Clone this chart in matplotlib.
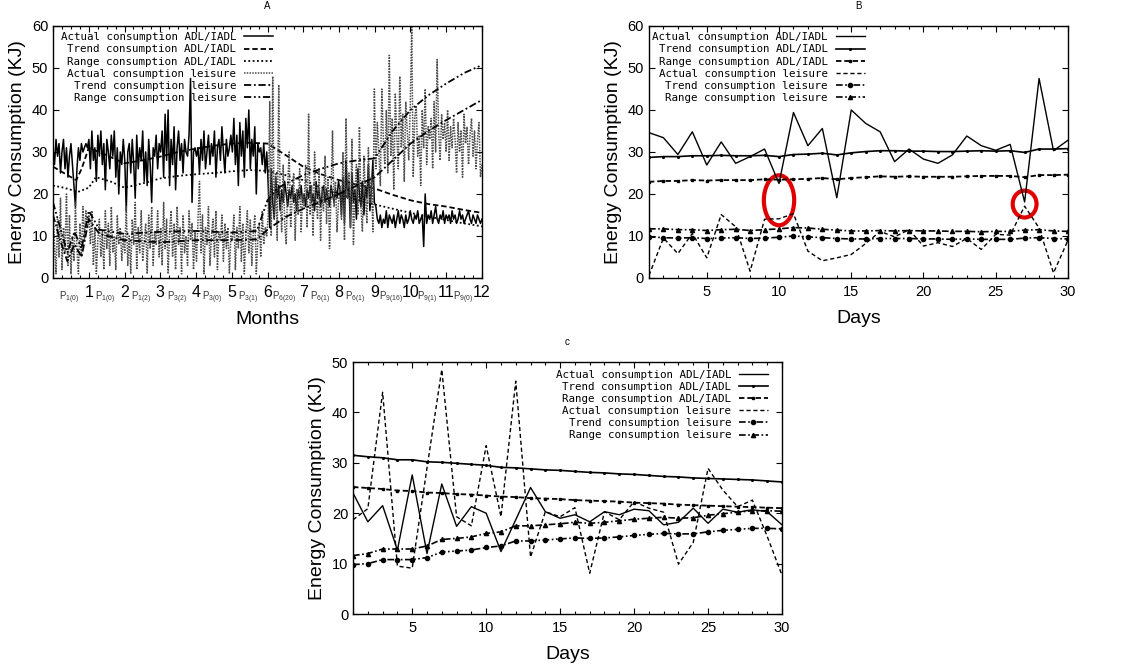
import numpy as np
import matplotlib
matplotlib.use('Agg')
import matplotlib.pyplot as plt
from matplotlib.patches import Ellipse
from matplotlib.ticker import MultipleLocator
import matplotlib.transforms as mtransforms

plt.rcParams['font.family'] = ['Liberation Sans', 'DejaVu Sans']

labels = ['Actual consumption ADL/IADL', 'Trend consumption ADL/IADL',
          'Range consumption ADL/IADL', 'Actual consumption leisure',
          'Trend consumption leisure', 'Range consumption leisure']

# ---- panel A : one year, 24 readings per month
a_adl_actual = [31, 27, 33, 29, 32, 25, 30, 33, 26, 31, 24, 29, 32, 27, 22, 17, 26, 31, 28, 32, 30, 31, 32, 31,
                33, 26, 35, 28, 31, 23, 34, 29, 35, 27, 32, 21, 33, 30, 26, 34, 29, 35, 24, 31, 20, 30, 27, 33,
                28, 16, 30, 32, 25, 33, 27, 19, 34, 26, 31, 28, 35, 23, 30, 22, 33, 27, 18, 31, 29, 34, 26, 32,
                30, 35, 24, 39, 28, 40, 22, 33, 27, 36, 21, 31, 35, 28, 32, 25, 33, 30, 29, 34, 47.5, 18, 30, 31,
                29, 31, 25, 33, 28, 35, 26, 30, 34, 27, 32, 29, 35, 24, 31, 33, 28, 36, 30, 25, 33, 29, 31, 34,
                30, 38, 27, 34, 22, 37, 29, 35, 24, 38, 31, 40, 26, 33, 29, 36, 20, 32, 30, 31, 27, 32, 25, 30,
                22, 12, 26, 18, 14, 24, 19, 22, 16, 21, 18, 23, 20, 17, 21, 19, 22, 18, 20, 16, 21, 19, 22, 18,
                20, 17, 21, 19, 22, 18, 20, 16, 23, 19, 21, 17, 20, 22, 18, 21, 19, 17, 22, 20, 18, 21, 19, 23,
                21, 15, 24, 13, 28, 19, 22, 12, 25, 18, 21, 14, 26, 20, 17, 23, 15, 22, 19, 27, 16, 21, 28, 18,
                17, 14, 13, 15, 12, 14, 13, 16, 12, 15, 14, 13, 15, 12, 14, 16, 13, 15, 14, 12, 15, 13, 14, 16,
                14, 13, 15, 14, 16, 13, 14, 15, 7.5, 20, 13, 15, 14, 16, 13, 15, 17, 14, 13, 15, 14, 16, 13, 15,
                14, 15, 13, 16, 14, 15, 13, 14, 16, 14, 15, 13, 14, 15, 16, 14, 13, 15, 14, 13, 15, 14, 13, 14]
a_leis_actual = [17, 8, 1, 14, 5, 19, 2, 12, 6, 20, 3, 15, 1, 10, 4, 18, 7, 1, 13, 5, 17, 9, 16, 12,
                 15, 8, 16, 3, 12, 1, 9, 14, 5, 11, 2, 16, 7, 13, 3, 17, 6, 10, 2, 15, 8, 12, 4, 10,
                 6, 17, 3, 10, 1, 14, 8, 18, 2, 12, 6, 16, 4, 9, 13, 1, 15, 7, 17, 3, 11, 8, 16, 5,
                 12, 3, 18, 7, 14, 1, 11, 16, 5, 13, 2, 17, 8, 12, 1, 15, 6, 10, 3, 16, 9, 13, 2, 11,
                 4, 14, 23, 6, 15, 1, 12, 8, 17, 3, 10, 14, 5, 16, 2, 11, 9, 15, 4, 13, 7, 12, 1, 10,
                 9, 15, 2, 12, 7, 17, 4, 13, 1, 10, 16, 6, 14, 3, 11, 15, 1, 9, 13, 5, 16, 8, 12, 10,
                 15, 42, 10, 48, 14, 25, 9, 46, 18, 11, 27, 13, 8, 22, 30, 12, 19, 25, 9, 21, 15, 26, 11, 20,
                 17, 27, 12, 39, 15, 22, 10, 30, 19, 14, 26, 9, 21, 16, 29, 13, 24, 7, 20, 35, 17, 23, 11, 18,
                 22, 14, 30, 9, 38, 19, 25, 12, 33, 8, 21, 27, 15, 36, 17, 11, 29, 20, 13, 31, 18, 24, 11, 45,
                 26, 37, 30, 22, 45, 33, 27, 40, 25, 53, 29, 38, 21, 44, 34, 26, 48, 31, 39, 23, 42, 35, 28, 41,
                 60, 24, 38, 41, 29, 34, 22, 40, 31, 45, 27, 36, 33, 38, 26, 42, 30, 52, 35, 28, 39, 33, 37, 30,
                 40, 28, 36, 31, 38, 33, 25, 37, 30, 35, 24, 39, 32, 36, 27, 34, 38, 29, 35, 26, 33, 37, 24, 27]

a_trend_adl_m = [0, 0.3, 0.65, 0.8, 1.0, 1.5, 2, 2.5, 3, 3.5, 4, 4.5, 5, 5.5, 6,
                 6.5, 7, 7.5, 8, 8.5, 9, 9.5, 10, 10.5, 11, 11.5, 12]
a_trend_adl = [26.5, 25.0, 23.3, 26, 31.0, 29.2, 27.3, 28.0, 28.9, 30.0, 30.8, 31.5,
               32.0, 32.2, 32.0, 29.3, 26.5, 24.7, 23.3, 22.2, 21.3, 19.8, 18.5,
               17.6, 17.0, 16.2, 15.5]
a_range_adl_m = [0, 0.3, 0.7, 1.0, 1.2, 1.6, 2.0, 2.5, 3.0, 3.5, 4.0, 4.5, 5.0, 5.5,
                 6.0, 6.5, 7.0, 7.5, 8.0, 8.5, 9.0, 9.5, 10, 10.5, 11, 11.5, 12]
a_range_adl = [22, 21.5, 20.5, 21.5, 24.0, 23.0, 21.5, 22.5, 23.7, 24.3, 24.7, 25.0,
               25.4, 25.7, 25.5, 24.5, 23.3, 21.6, 20.0, 18.6, 17.5, 16.5, 15.5,
               14.6, 13.8, 13.0, 12.3]
a_trend_leis_m = [0, 0.2, 0.4, 0.6, 0.8, 1.0, 1.3, 2, 3, 4, 5, 5.7, 6.0, 6.5, 7,
                  7.5, 8, 8.5, 9, 9.5, 10, 10.5, 11, 11.5, 12]
a_trend_leis = [15, 9, 4, 8, 5, 14, 10.5, 9.0, 8.5, 9.0, 9.0, 9.2, 11.5, 14.5, 16.5,
                18.2, 20.0, 22.0, 24.0, 28.0, 32.0, 35.0, 37.6, 40.0, 42.4]
a_range_leis_m = [0, 0.2, 0.4, 0.6, 0.8, 1.0, 1.3, 2, 3, 4, 5, 5.7, 6.0, 6.3, 7,
                  7.5, 8, 8.5, 9, 9.5, 10, 10.5, 11, 11.5, 12]
a_range_leis = [18, 12, 6, 11, 7, 16, 11.5, 10.5, 11.0, 11.2, 10.8, 11.2, 18.5, 21.5,
                24.5, 26.0, 27.3, 28.0, 28.5, 35.0, 40.0, 43.5, 46.3, 48.8, 50.7]
period_labels = ['1(0)', '1(0)', '1(2)', '3(2)', '3(0)', '3(1)',
                 '6(20)', '6(1)', '6(1)', '9(16)', '9(1)', '9(0)']

# ---- panel B : one month
days = list(range(1, 31))
b_adl_actual = [34.6, 33.4, 29.4, 34.8, 26.9, 32.4, 27.3, 28.9, 30.7, 22.5,
                39.4, 31.5, 35.6, 19.1, 40.0, 36.8, 34.8, 27.7, 30.7, 28.3,
                27.3, 29.3, 33.8, 31.5, 30.4, 31.8, 18.1, 47.5, 30.3, 32.8]
b_adl_trend = [28.7, 28.9, 28.9, 29.1, 29.1, 29.2, 29.1, 29.1, 29.2, 28.9,
               29.4, 29.5, 29.7, 29.3, 29.8, 30.1, 30.3, 30.3, 30.2, 30.2,
               30.1, 30.1, 30.2, 30.3, 30.2, 30.3, 29.9, 30.7, 30.7, 30.8]
b_adl_range = [22.9, 23.1, 23.1, 23.3, 23.2, 23.3, 23.3, 23.3, 23.5, 23.4,
               23.5, 23.6, 23.8, 23.5, 23.8, 24.0, 24.2, 24.1, 24.2, 24.1,
               24.1, 24.1, 24.2, 24.3, 24.3, 24.3, 24.0, 24.5, 24.5, 24.6]
b_leis_actual = [0.6, 9.5, 5.8, 10.6, 4.8, 15.1, 12.2, 1.6, 14.0, 14.1,
                 15.3, 6.4, 4.1, 4.8, 5.6, 8.2, 11.1, 9.8, 11.5, 7.6,
                 8.4, 7.5, 9.4, 6.8, 10.4, 10.2, 17.1, 11.9, 1.2, 9.0]
b_leis_trend = [9.8, 9.6, 9.5, 9.6, 9.4, 9.5, 9.6, 9.4, 9.5, 9.7,
                10.0, 9.8, 9.6, 9.4, 9.3, 9.3, 9.4, 9.4, 9.4, 9.3,
                9.3, 9.2, 9.3, 9.2, 9.2, 9.2, 9.5, 9.6, 9.4, 9.3]
b_leis_range = [11.7, 11.7, 11.5, 11.5, 11.3, 11.5, 11.6, 11.3, 11.5, 11.7,
                12.0, 11.9, 11.6, 11.4, 11.2, 11.2, 11.3, 11.2, 11.3, 11.2,
                11.2, 11.1, 11.1, 11.0, 11.1, 11.1, 11.4, 11.5, 11.2, 11.1]
# highlighted anomalies: (day, value, width in days, height in KJ)
b_marks = [(10, 18.5, 2.1, 11.9), (27, 17.6, 1.65, 6.4)]

# ---- panel C : one month
c_adl_actual = [24.0, 18.3, 21.5, 12.7, 27.6, 12.0, 25.8, 17.4, 21.3, 20.0,
                12.4, 18.7, 25.1, 20.3, 19.0, 19.7, 18.3, 20.3, 19.7, 20.8,
                20.5, 17.7, 18.2, 21.0, 18.0, 20.8, 20.2, 20.7, 20.3, 17.7]
c_adl_trend = [31.5, 31.2, 31.0, 30.6, 30.6, 30.2, 30.1, 29.9, 29.7, 29.5,
               29.1, 29.0, 28.8, 28.6, 28.5, 28.3, 28.1, 28.0, 27.8, 27.7,
               27.5, 27.3, 27.2, 27.0, 26.9, 26.8, 26.7, 26.6, 26.4, 26.2]
c_adl_range = [25.2, 25.0, 24.8, 24.5, 24.4, 24.1, 24.0, 23.8, 23.7, 23.5,
               23.3, 23.2, 23.0, 22.9, 22.8, 22.6, 22.5, 22.4, 22.3, 22.1,
               22.0, 21.9, 21.7, 21.6, 21.5, 21.4, 21.3, 21.2, 21.1, 21.0]
c_leis_actual = [18.7, 20.9, 44.0, 9.5, 9.1, 29.0, 48.5, 19.3, 17.5, 33.4,
                 19.3, 46.2, 11.3, 20.3, 19.3, 21.1, 8.1, 20.3, 18.7, 22.3,
                 21.0, 20.2, 9.9, 14.2, 28.9, 24.6, 21.3, 22.6, 15.4, 7.7]
c_leis_trend = [9.8, 10.0, 10.8, 10.8, 10.8, 11.2, 12.3, 12.5, 12.7, 13.2,
                13.5, 14.5, 14.5, 14.7, 14.9, 15.1, 15.0, 15.1, 15.3, 15.6,
                15.8, 16.0, 15.9, 15.9, 16.3, 16.6, 16.8, 17.0, 17.0, 16.9]
c_leis_range = [11.6, 12.0, 12.9, 12.9, 12.9, 13.5, 14.8, 15.0, 15.3, 16.0,
                16.3, 17.5, 17.5, 17.7, 17.9, 18.2, 18.0, 18.2, 18.5, 18.8,
                19.0, 19.2, 19.0, 19.1, 19.6, 19.9, 20.2, 20.5, 20.5, 20.4]

mono = 'DejaVu Sans Mono'
DASH = (0, (3, 1.6))
DOT = (0, (1, 1.4))
DASHDOT = (0, (4, 1.5, 1, 1.5))
DASHDOTDOT = (0, (4, 1.5, 1, 1.5, 1, 1.5))


def style_axes(ax, title):
    ax.set_title(title, fontsize=7, pad=12)
    ax.tick_params(which='both', direction='in', top=True, right=True, labelsize=10.5)
    ax.tick_params(which='major', length=4, width=0.8)
    ax.tick_params(which='minor', length=2, width=0.8)
    ax.tick_params(axis='x', pad=5)
    for s in ax.spines.values():
        s.set_linewidth(1.0)
    ax.set_ylabel('Energy Consumption (KJ)', fontsize=14)


def add_legend(ax, x_right, y_top):
    ax.legend(loc='upper right', bbox_to_anchor=(x_right, y_top), frameon=False,
              markerfirst=False, numpoints=1, prop={'family': mono, 'size': 7.8},
              handlelength=2.7, handletextpad=0.7, labelspacing=0.2,
              borderpad=0, borderaxespad=0)


def daily_panel(ax, adl_a, adl_t, adl_r, lei_a, lei_t, lei_r):
    ax.plot(days, adl_a, color='black', lw=1.0, label=labels[0])
    ax.plot(days, adl_t, color='black', lw=1.2, marker='.', ms=2.5, label=labels[1])
    ax.plot(days, adl_r, color='black', lw=1.3, ls=DASH, marker='s', ms=1.8,
            label=labels[2])
    ax.plot(days, lei_a, color='black', lw=1.0, ls=(0, (3, 2)), label=labels[3])
    ax.plot(days, lei_t, color='black', lw=1.2, ls=DASHDOTDOT, marker='o', ms=3,
            label=labels[4])
    ax.plot(days, lei_r, color='black', lw=1.2, ls=DASHDOT, marker='^', ms=3,
            label=labels[5])
    ax.set_xlim(1, 30)
    ax.xaxis.set_major_locator(MultipleLocator(5))
    ax.xaxis.set_minor_locator(MultipleLocator(1))
    ax.set_xlabel('Days', fontsize=14, labelpad=8)


fig = plt.figure(figsize=(11.33, 6.71), dpi=100)
axA = fig.add_axes([0.0468, 0.5857, 0.3786, 0.3756])
axB = fig.add_axes([0.5728, 0.5857, 0.3698, 0.3756])
axC = fig.add_axes([0.3116, 0.0849, 0.3786, 0.3756])

# ---------------- A
xa = np.linspace(0, 12, len(a_adl_actual))
xl = np.linspace(0, 12, len(a_leis_actual))
axA.plot(xa, a_adl_actual, color='black', lw=1.1, label=labels[0])
axA.plot(a_trend_adl_m, a_trend_adl, color='black', lw=1.3, ls=DASH, label=labels[1])
axA.plot(a_range_adl_m, a_range_adl, color='black', lw=1.3, ls=DOT, label=labels[2])
axA.plot(xl, a_leis_actual, color='0.3', lw=1.1, ls=(0, (1, 0.8)), label=labels[3])
axA.plot(a_trend_leis_m, a_trend_leis, color='black', lw=1.3, ls=DASHDOT, label=labels[4])
axA.plot(a_range_leis_m, a_range_leis, color='black', lw=1.3, ls=DASHDOTDOT,
         label=labels[5])
axA.set_xlim(0, 12)
axA.set_ylim(0, 60)
axA.xaxis.set_minor_locator(MultipleLocator(0.25))
axA.set_xticks(range(13))
axA.set_xticklabels([''] + [str(i) for i in range(1, 13)])
style_axes(axA, 'A')
axA.tick_params(axis='x', labelsize=11.5)
axA.set_xlabel('Months', fontsize=14, labelpad=8)
trans = mtransforms.blended_transform_factory(axA.transData, axA.transAxes)
for i, p in enumerate(period_labels):
    axA.text(i + 0.46, -0.08, r'$\mathregular{P_{%s}}$' % p, transform=trans,
             ha='center', va='center', fontsize=6.9, color='0.2')
add_legend(axA, 0.513, 0.975)

# ---------------- B
daily_panel(axB, b_adl_actual, b_adl_trend, b_adl_range,
            b_leis_actual, b_leis_trend, b_leis_range)
axB.set_ylim(0, 60)
for d, v, w, h in b_marks:
    axB.add_patch(Ellipse((d, v), w, h, fill=False, edgecolor='#e00000', lw=3))
style_axes(axB, 'B')
add_legend(axB, 0.515, 0.975)

# ---------------- C
daily_panel(axC, c_adl_actual, c_adl_trend, c_adl_range,
            c_leis_actual, c_leis_trend, c_leis_range)
axC.set_ylim(0, 50)
style_axes(axC, 'c')
add_legend(axC, 0.967, 0.97)

fig.savefig('out.png', dpi=100)
